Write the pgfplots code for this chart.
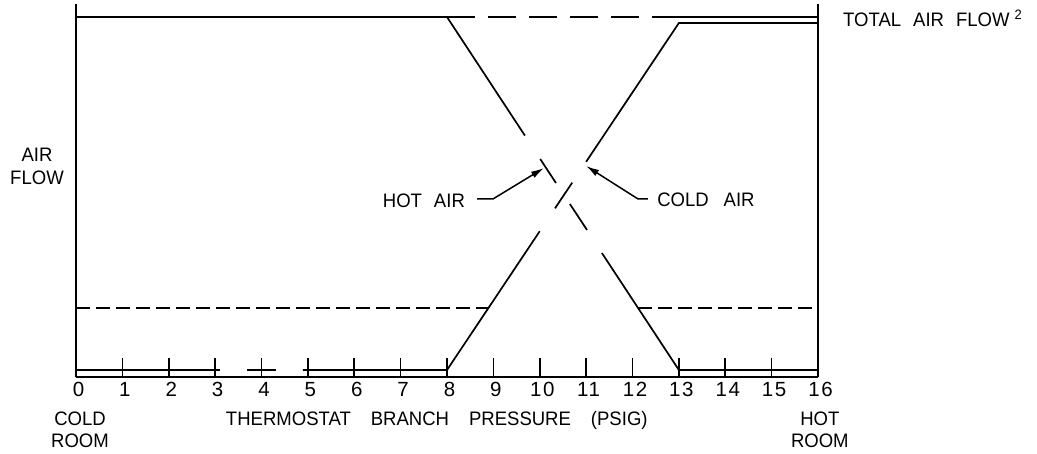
\documentclass[border=0pt]{standalone}
\usepackage{pgfplots}
\pgfplotsset{compat=1.18}
\usepackage{fontspec}
\setmainfont{Liberation Sans}[FakeStretch=0.95]
\newfontfamily\tickfont{Liberation Sans}[LetterSpace=8]
\usetikzlibrary{arrows.meta}

\begin{document}
\fontsize{19.5pt}{23pt}\selectfont
\begin{tikzpicture}[line width=1.7pt]
\useasboundingbox (-76pt,-76pt) rectangle (961pt,377pt);
\begin{axis}[
  scale only axis, width=742pt, height=373pt,
  xmin=0, xmax=16, ymin=0, ymax=373,
  axis x line=bottom, axis y line=none,
  axis line style={-, line width=1.7pt, black},
  xtick={0,...,16}, ytick=\empty,
  tick align=inside, major tick length=19pt,
  major tick style={line width=1.7pt, black},
  xticklabel style={anchor=base, yshift=-19.5pt, xshift=2.5pt, inner sep=0pt, font=\tickfont\fontsize{20.5pt}{24pt}\selectfont},
  /pgf/number format/assume math mode=true,
  ln/.style={black, mark=none, line width=1.7pt, solid},
  clip=false,
]
% frame sides
\addplot[ln] coordinates {(0,0) (0,373)};
\addplot[ln] coordinates {(16,0) (16,373)};
% hot air (descending)
\addplot[ln] coordinates {(0,360) (8,360) (9.68,241.4)};
\addplot[ln] coordinates {(10.01,218) (10.35,194)};
\addplot[ln] coordinates {(10.65,173) (11.02,147)};
\addplot[ln] coordinates {(11.34,124) (13,7) (16,7)};
% cold air (ascending)
\addplot[ln] coordinates {(0,7) (3.1,7)};
\addplot[ln] coordinates {(3.69,7) (4.31,7)};
\addplot[ln] coordinates {(4.89,7) (8,7) (10,145.8)};
\addplot[ln] coordinates {(10.33,168.7) (10.70,194.4)};
\addplot[ln] coordinates {(11.0,215.2) (13,354) (16,354)};
% total air flow
\addplot[ln, dash pattern=on 28pt off 13pt] coordinates {(8,360) (12.44,360)};
\addplot[ln] coordinates {(12.44,360) (16,360)};
% minimum air flow
\addplot[ln, dash pattern=on 14pt off 6pt] coordinates {(0,69) (8.89,69)};
\addplot[ln, dash pattern=on 14pt off 6pt] coordinates {(12.12,69) (16,69)};

% leaders
\draw[line width=1.5pt, -{Latex[length=13pt,width=7pt]}] (axis cs:8.65,178) -- (axis cs:8.99,178) -- (axis cs:10.09,209);
\draw[line width=1.5pt, -{Latex[length=13pt,width=7pt]}] (axis cs:12.33,178) -- (axis cs:12.12,178) -- (axis cs:11.0,211);

% labels
\node[anchor=base west, inner sep=0pt] at (axis cs:16.54,350) {TOTAL\hspace{12pt}AIR\hspace{12pt}FLOW\hspace{5pt}\textsuperscript{2}};
\node[anchor=base, inner sep=0pt] at (axis cs:-0.841,215) {AIR};
\node[anchor=base, inner sep=0pt] at (axis cs:-0.841,192) {FLOW};
\node[anchor=base east, inner sep=0pt] at (axis cs:8.39,169) {HOT\hspace{12pt}AIR};
\node[anchor=base west, inner sep=0pt] at (axis cs:12.53,170) {COLD\hspace{15pt}AIR};
\node[anchor=base, inner sep=0pt] at (axis cs:0.086,-48) {COLD};
\node[anchor=base, inner sep=0pt] at (axis cs:0.086,-70) {ROOM};
\node[anchor=base, inner sep=0pt] at (axis cs:16.04,-48) {HOT};
\node[anchor=base, inner sep=0pt] at (axis cs:16.04,-70) {ROOM};
\node[anchor=base, inner sep=0pt] at (axis cs:7.78,-48) {THERMOSTAT\hspace{20pt}BRANCH\hspace{20pt}PRESSURE\hspace{20pt}(PSIG)};
\end{axis}
\end{tikzpicture}
\end{document}
